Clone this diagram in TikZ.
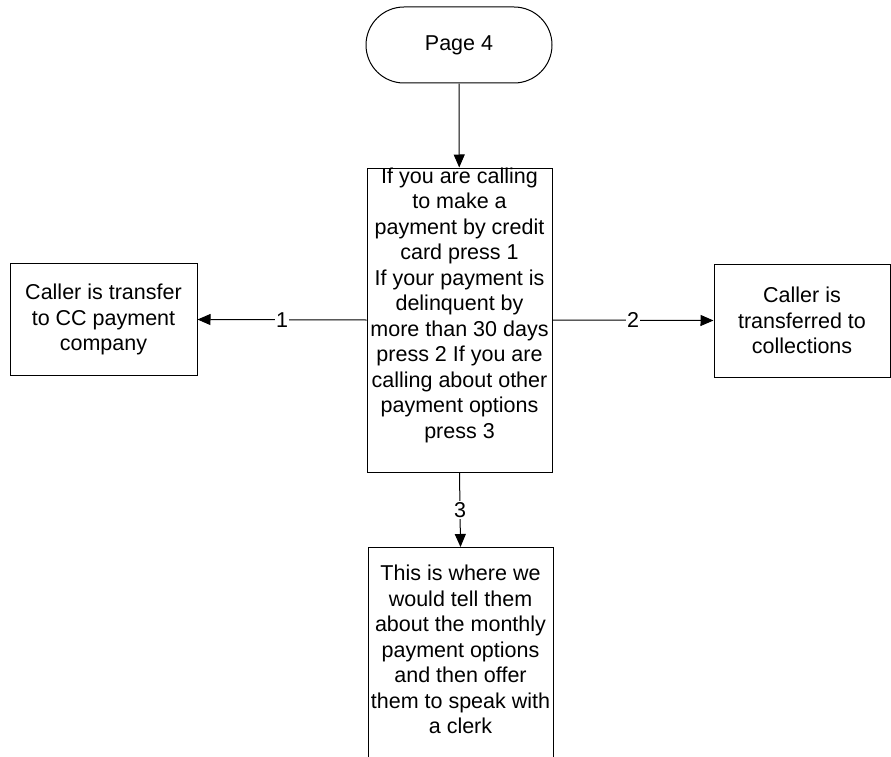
\documentclass[tikz,border=0pt]{standalone}
\usepackage{fontspec}
\setmainfont{Liberation Sans}
\usetikzlibrary{arrows.meta, shapes.misc, positioning}

\newcommand{\chartfont}{\fontsize{21.5}{25.5}\selectfont}

\tikzset{
  chartbox/.style={draw, line width=1pt, align=center, inner sep=0pt},
  boxtext/.style={align=center, inner sep=0pt},
  flow/.style={line width=1pt, -{Triangle[length=13pt,width=11pt]}},
  choice/.style={fill=white, inner sep=1.5pt}
}

\begin{document}
\begin{tikzpicture}[x=1pt, y=-1pt, font=\chartfont]
  \useasboundingbox (0,0) rectangle (891,757);

  % start terminal and the menu box
  \node[chartbox, rounded rectangle, minimum width=186pt, minimum height=76pt] (page4) at (459,45) {Page 4};
  \node[chartbox, minimum width=185pt, minimum height=304pt] (menu) at (459.5,320) {};
  \node[boxtext, below=0pt of menu.north] (menutext) {If you are calling\\to make a\\payment by credit\\card press 1\\If your payment is\\delinquent by\\more than 30 days\\press 2 If you are\\calling about other\\payment options\\press 3};

  % the three outcomes
  \node[chartbox, minimum width=187pt, minimum height=112pt] (ccpay) at (103.5,319.5) {Caller is transfer\\to CC payment\\company};
  \node[chartbox, minimum width=176pt, minimum height=113pt] (collect) at (802,320.5) {Caller is\\transferred to\\collections};
  \node[chartbox, minimum width=185pt, minimum height=260pt, anchor=north] (info) at (460.5,547) {};
  \node[boxtext, below=18pt of info.north] (infotext) {This is where we\\would tell them\\about the monthly\\payment options\\and then offer\\them to speak with\\a clerk};

  \draw[flow] (page4) -- (menu);
  \draw[flow] (menu.west) -- node[choice] (one) {1} (ccpay.east);
  \draw[flow] (menu.east) -- node[choice] (two) {2} (collect.west);
  \draw[flow] (menu.south) -- node[choice] (three) {3} (info.north);
\end{tikzpicture}
\end{document}
